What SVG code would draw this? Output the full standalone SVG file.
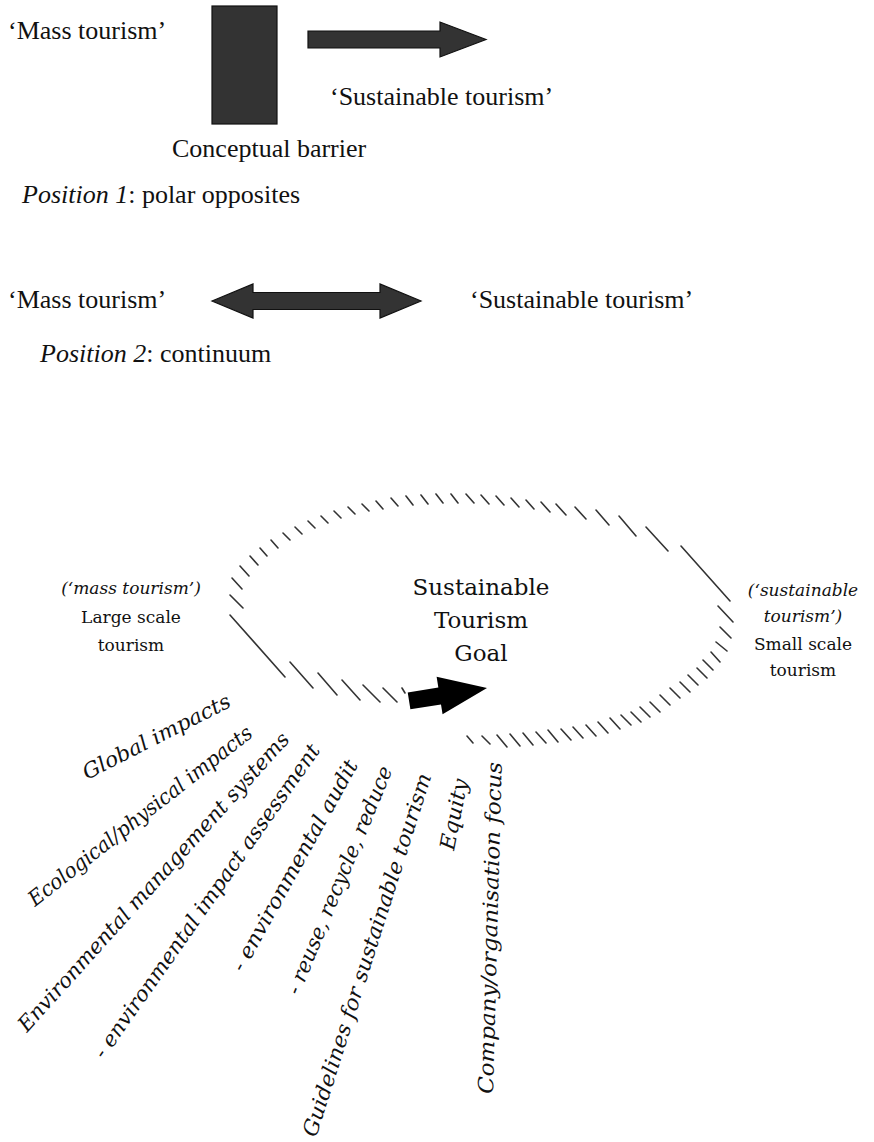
<svg xmlns="http://www.w3.org/2000/svg" width="874" height="1142" viewBox="0 0 874 1142">
<style>
.t{font-family:"Liberation Serif","Times New Roman",serif;font-size:26px;fill:#111}
.b{font-family:"DejaVu Serif","Liberation Serif",serif;fill:#111}
.c{font-size:23px}
.s{font-size:17px}
.r{font-size:21px;font-style:italic}
.i{font-style:italic}
.shape{fill:#333;stroke:#111;stroke-width:1.2}
.h{stroke:#333;stroke-width:1.6;stroke-linecap:round;fill:none}
</style>
<rect width="874" height="1142" fill="#fff"/>
<g id="barrier"><rect class="shape" x="212" y="6" width="65" height="118"/></g>
<g id="top-labels">
<text class="t" x="8" y="39">‘Mass tourism’</text>
<text class="t" x="330" y="105">‘Sustainable tourism’</text>
<text class="t" x="172" y="157">Conceptual barrier</text>
<text class="t" x="22" y="203"><tspan class="i">Position 1</tspan>: polar opposites</text>
</g>
<g id="mid-labels">
<text class="t" x="8" y="308">‘Mass tourism’</text>
<text class="t" x="470" y="308">‘Sustainable tourism’</text>
<text class="t" x="40" y="362"><tspan class="i">Position 2</tspan>: continuum</text>
</g>
<g id="connectors">
<polygon class="shape" points="308,31 440,31 440,22 486,39.5 440,57 440,48 308,48"/>
<polygon class="shape" points="212,301 253,284 253,292.5 380,292.5 380,284 421,301 380,318 380,309.5 253,309.5 253,318"/>
<polygon fill="#000" transform="translate(487,688) rotate(-9)" points="0,0 -48,-19 -48,-8 -79,-8 -79,9 -48,9 -48,19"/>
</g>
<g id="goal-ring" class="h">
<path d="M230,595L243,608M232,578L242,589M240,566L249,576M250,556L258,565M260,548L267,556M271,540L278,548M283,533L290,540M295,527L302,534M308,521L315,528M321,516L328,523M334,511L341,518M348,507L355,514M362,504L369,511M376,501L383,509M391,498L398,506M406,496L413,505M421,495L428,504M436,494L443,503M451,494L458,503M466,494L474,503M481,495L489,504M496,496L504,505M511,498L519,507M526,500L534,509M541,502L550,512M556,504L566,515M575,507L586,519M596,510L609,525M619,516L636,536M646,527L668,551M681,546L730,601M718,606L733,622M720,627L731,638M716,642L727,651M711,652L720,662M703,660L713,670M697,668L707,678M688,675L698,685M680,682L690,692M670,688L680,698M660,695L670,705M650,702L660,712M640,707L650,717M631,712L641,722M621,715L631,725M610,718L620,729M598,722L608,733M586,725L596,736M573,727L583,738M561,729L571,740M548,730L558,742M536,732L546,743M523,733L533,745M510,734L520,746M497,735L507,747M482,736L490,744M467,736L473,743M230,615L285,677M290,662L313,688M318,673L337,695M342,680L360,700M363,685L380,702M383,688L397,702M402,688L405,693"/>
</g>
<g id="goal">
<text class="b c" text-anchor="middle" x="481" y="595">Sustainable</text>
<text class="b c" text-anchor="middle" x="481" y="628">Tourism</text>
<text class="b c" text-anchor="middle" x="481" y="661">Goal</text>
</g>
<g id="large-scale">
<text class="b s" text-anchor="middle" x="131" y="594"><tspan class="i">(‘mass tourism’)</tspan></text>
<text class="b s" text-anchor="middle" x="131" y="623">Large scale</text>
<text class="b s" text-anchor="middle" x="131" y="651">tourism</text>
</g>
<g id="small-scale">
<text class="b s" text-anchor="middle" x="803" y="596"><tspan class="i">(‘sustainable</tspan></text>
<text class="b s" text-anchor="middle" x="803" y="622"><tspan class="i">tourism’)</tspan></text>
<text class="b s" text-anchor="middle" x="803" y="650">Small scale</text>
<text class="b s" text-anchor="middle" x="803" y="676">tourism</text>
</g>
<g id="factors">
<text class="b r" transform="translate(87,780) rotate(-27)" textLength="163" lengthAdjust="spacingAndGlyphs">Global impacts</text>
<text class="b r" transform="translate(35,907) rotate(-38)" textLength="278" lengthAdjust="spacingAndGlyphs">Ecological/physical impacts</text>
<text class="b r" transform="translate(27,1033) rotate(-48)" textLength="394" lengthAdjust="spacingAndGlyphs">Environmental management systems</text>
<text class="b r" transform="translate(104,1060) rotate(-55)" textLength="378" lengthAdjust="spacingAndGlyphs">- environmental impact assessment</text>
<text class="b r" transform="translate(243,973) rotate(-61)" textLength="238" lengthAdjust="spacingAndGlyphs">- environmental audit</text>
<text class="b r" transform="translate(299,996) rotate(-67.5)" textLength="245" lengthAdjust="spacingAndGlyphs">- reuse, recycle, reduce</text>
<text class="b r" transform="translate(316,1138) rotate(-72.3)" textLength="380" lengthAdjust="spacingAndGlyphs">Guidelines for sustainable tourism</text>
<text class="b r" transform="translate(454,851) rotate(-79)" textLength="72" lengthAdjust="spacingAndGlyphs">Equity</text>
<text class="b r" transform="translate(493,1094) rotate(-88.5)" textLength="332" lengthAdjust="spacingAndGlyphs">Company/organisation focus</text>
</g>
</svg>
